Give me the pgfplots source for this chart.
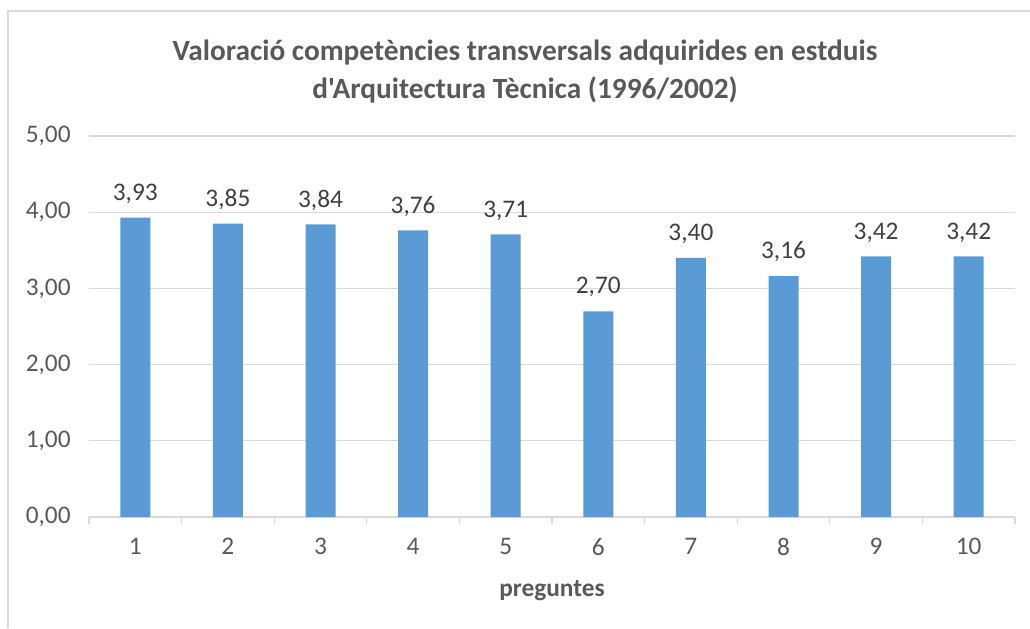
\documentclass[border=0pt]{standalone}
\usepackage{pgfplots}
\pgfplotsset{compat=1.18}
\usepackage{fontspec}
\setmainfont{Carlito}[Ligatures=TeXOff]
\definecolor{barblue}{HTML}{5B9BD5}
\definecolor{txtgray}{HTML}{595959}
\definecolor{lblgray}{HTML}{404040}
\definecolor{gridgray}{HTML}{D9D9D9}
\begin{document}
\begin{tikzpicture}
% bounding box = image size (1px = 0.75pt)
\path[use as bounding box] (0,0) rectangle (772.5pt,-471pt);
\draw[gridgray, line width=1.2pt] (6pt,-471pt) -- (6pt,-8.25pt) -- (772.5pt,-8.25pt);
\node[align=center, text=txtgray, font=\fontsize{22}{28.5}\selectfont\bfseries]
  at (393.75pt,-53.5pt) {Valoració competències transversals adquirides en estduis\\d'Arquitectura Tècnica (1996/2002)};
\begin{axis}[
    at={(66.75pt,-387.75pt)}, anchor=origin,
    scale only axis,
    width=694.5pt, height=285.75pt,
    xmin=0.5, xmax=10.5,
    ymin=0, ymax=5,
    axis x line=bottom,
    axis y line=left,
    x axis line style={gridgray, line width=1pt, -},
    y axis line style={draw=none},
    xtick={1,...,10},
    major x tick style={draw=none},
    minor xtick={0.5,1.5,...,10.5},
    minor tick length=5pt,
    minor x tick style={gridgray, line width=1pt},
    tick align=outside,
    ytick={0,1,...,5},
    ymajorgrids,
    grid style={gridgray, line width=1pt},
    major y tick style={draw=none},
    /pgf/number format/assume math mode=true,
    ticklabel style={font=\fontsize{19}{22}\selectfont, text=txtgray},
    yticklabel style={xshift=-6pt, /pgf/number format/.cd, fixed, fixed zerofill, precision=2, use comma},
    xticklabel style={yshift=-8pt},
    xlabel={preguntes},
    xlabel style={font=\fontsize{19}{22}\selectfont\bfseries, text=txtgray, yshift=-12pt},
    clip=false,
]
\addplot[ybar, bar width=22.5pt, fill=barblue, draw=none,
    nodes near coords,
    nodes near coords style={font=\fontsize{19}{22}\selectfont, text=lblgray, yshift=7pt,
        /pgf/number format/.cd, fixed, fixed zerofill, precision=2, use comma}]
    coordinates {
        (1,3.93) (2,3.85) (3,3.84) (4,3.76) (5,3.71)
        (6,2.70) (7,3.40) (8,3.16) (9,3.42) (10,3.42)
    };
\end{axis}
\end{tikzpicture}
\end{document}
